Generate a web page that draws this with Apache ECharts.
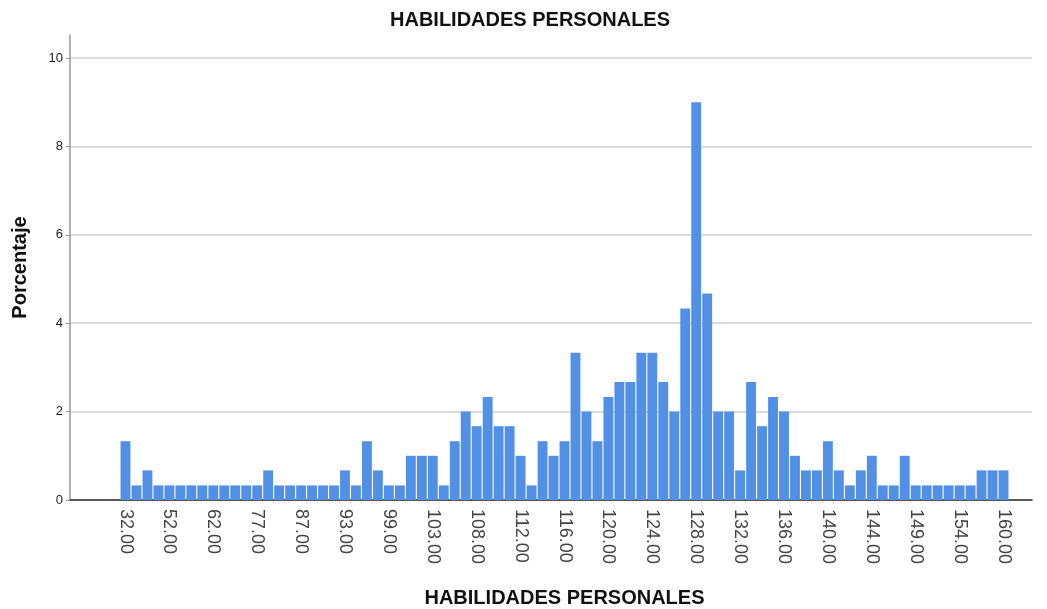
<!DOCTYPE html>
<html>
<head>
<meta charset="utf-8">
<title>HABILIDADES PERSONALES</title>
<script src="https://cdn.jsdelivr.net/npm/echarts@6.0.0/dist/echarts.min.js"></script>
<style>
  html, body { margin: 0; padding: 0; background: #fff; }
  #chart { width: 1047px; height: 609px; }
</style>
</head>
<body>
<div id="chart"></div>
<script>
  // puntajes observados (solo cada 4to se rotula en el eje)
  const scores = [
    32, 37, 44, 49, 52, 55, 57, 60, 62, 66, 70, 74, 77, 80, 82, 85, 87,
    88, 90, 91, 93, 95, 96, 98, 99, 100, 101, 102, 103, 104, 105, 107, 108,
    109, 110, 111, 112, 113, 114, 115, 116, 117, 118, 119, 120, 121, 122, 123, 124,
    125, 126, 127, 128, 129, 130, 131, 132, 133, 134, 135, 136, 137, 138, 139, 140,
    141, 142, 143, 144, 145, 146, 148, 149, 150, 152, 153, 154, 156, 157, 159, 160
  ];

  // porcentaje de casos por puntaje
  const percents = [
    1.33, 0.33, 0.67, 0.33, 0.33, 0.33, 0.33, 0.33, 0.33, 0.33, 0.33, 0.33, 0.33, 0.67, 0.33, 0.33, 0.33,
    0.33, 0.33, 0.33, 0.67, 0.33, 1.33, 0.67, 0.33, 0.33, 1.00, 1.00, 1.00, 0.33, 1.33, 2.00, 1.67,
    2.33, 1.67, 1.67, 1.00, 0.33, 1.33, 1.00, 1.33, 3.33, 2.00, 1.33, 2.33, 2.67, 2.67, 3.33, 3.33,
    2.67, 2.00, 4.33, 9.00, 4.67, 2.00, 2.00, 0.67, 2.67, 1.67, 2.33, 2.00, 1.00, 0.67, 0.67, 1.33,
    0.67, 0.33, 0.67, 1.00, 0.33, 0.33, 1.00, 0.33, 0.33, 0.33, 0.33, 0.33, 0.33, 0.67, 0.67, 0.67
  ];

  const yTicks = [0, 2, 4, 6, 8, 10];

  const font = '"Liberation Sans", Arial, sans-serif';
  const yMax = 10.52;

  const myChart = echarts.init(document.getElementById('chart'));

  const options = {
    animation: false,
    backgroundColor: '#fff',
    title: {
      text: 'HABILIDADES PERSONALES',
      left: 385,
      top: 5,
      textStyle: { fontFamily: font, fontSize: 20, fontWeight: 'bold', color: '#111' }
    },
    grid: [
      // marco con lineas de cuadricula (ancho completo)
      { left: 70, right: 15, top: 35, bottom: 109, outerBoundsMode: 'none', containLabel: false },
      // area de las barras
      { left: 120, right: 38, top: 35, bottom: 109, outerBoundsMode: 'none', containLabel: false }
    ],
    xAxis: [
      {
        gridIndex: 0,
        type: 'value',
        min: 0,
        max: 1,
        axisLine: { show: true, lineStyle: { color: '#222', width: 1.5 } },
        axisTick: { show: false },
        axisLabel: { show: false },
        splitLine: { show: false }
      },
      {
        gridIndex: 1,
        type: 'category',
        data: scores,
        name: 'HABILIDADES PERSONALES',
        nameLocation: 'middle',
        nameGap: 88,
        nameTextStyle: { fontFamily: font, fontSize: 20, fontWeight: 'bold', color: '#111' },
        axisLine: { show: false },
        axisTick: { show: false },
        axisLabel: {
          interval: 3,
          rotate: -90,
          margin: 9,
          fontFamily: font,
          fontSize: 18,
          color: '#444',
          formatter: (v) => Number(v).toFixed(2)
        }
      }
    ],
    yAxis: [
      {
        gridIndex: 0,
        type: 'value',
        min: 0,
        max: yMax,
        interval: 2,
        name: 'Porcentaje',
        nameLocation: 'middle',
        nameGap: 40,
        nameTextStyle: { fontFamily: font, fontSize: 20, fontWeight: 'bold', color: '#111' },
        axisLine: { show: true, lineStyle: { color: '#9a9a9a', width: 1.5 } },
        axisTick: { show: true, length: 4, lineStyle: { color: '#9a9a9a' } },
        axisLabel: {
          fontFamily: font,
          fontSize: 13,
          color: '#222',
          margin: 7,
          showMaxLabel: false,
          formatter: (v) => (yTicks.indexOf(v) >= 0 ? String(v) : '')
        },
        splitLine: {
          show: true,
          showMinLine: false,
          showMaxLine: false,
          lineStyle: { color: '#cfcfcf', width: 1.5 }
        }
      },
      {
        gridIndex: 1,
        type: 'value',
        min: 0,
        max: yMax,
        show: false
      }
    ],
    series: [
      {
        type: 'bar',
        xAxisIndex: 1,
        yAxisIndex: 1,
        data: percents,
        barCategoryGap: '10%',
        itemStyle: { color: '#5290e6' },
        z: 3
      }
    ]
  };

  myChart.setOption(options);
</script>
</body>
</html>
